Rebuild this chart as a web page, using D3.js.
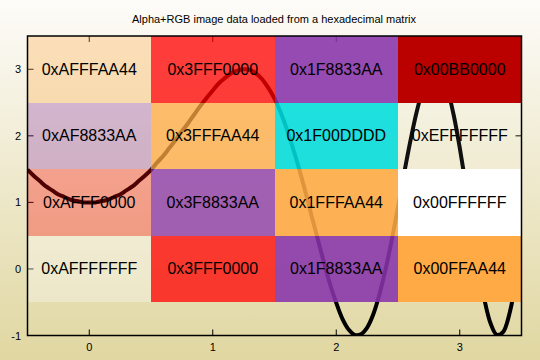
<!DOCTYPE html>
<html><head><meta charset="utf-8">
<script src="https://cdn.jsdelivr.net/npm/d3@7"></script>
<style>
html,body{margin:0;padding:0;background:#fff;}
svg{display:block;}
text{font-family:"Liberation Sans",Arial,sans-serif;}
</style></head>
<body>
<script>
const title = "Alpha+RGB image data loaded from a hexadecimal matrix";
const xTicks = [0, 1, 2, 3];
const yTicks = [-1, 0, 1, 2, 3];
const colX = [0, 1, 2, 3];
const rowY = [3, 2, 1, 0];
const row3 = ["0xAFFFAA44", "0x3FFF0000", "0x1F8833AA", "0x00BB0000"];
const row2 = ["0xAF8833AA", "0x3FFFAA44", "0x1F00DDDD", "0xEFFFFFFF"];
const row1 = ["0xAFFF0000", "0x3F8833AA", "0x1FFFAA44", "0x00FFFFFF"];
const row0 = ["0xAFFFFFFF", "0x3FFF0000", "0x1F8833AA", "0x00FFAA44"];
const curveX = [-0.50,-0.45,-0.40,-0.35,-0.30,-0.25,-0.20,-0.15,-0.10,-0.05,0.00,0.05,0.10,0.15,0.20,0.25,0.30,0.35,0.40,0.45,0.50,0.55,0.60,0.65,0.70,0.75,0.80,0.85,0.90,0.95,1.00,1.05,1.10,1.15,1.20,1.25,1.30,1.35,1.40,1.45,1.50,1.55,1.60,1.65,1.70,1.75,1.80,1.85,1.90,1.95,2.00,2.05,2.10,2.15,2.20,2.25,2.30,2.35,2.40,2.45,2.50,2.55,2.60,2.65,2.70,2.75,2.80,2.85,2.90,2.95,3.00,3.05,3.10,3.15,3.20,3.25,3.30,3.35,3.40,3.45,3.50];
const curveY = [1.49,1.40,1.32,1.24,1.18,1.12,1.08,1.04,1.02,1.00,1.00,1.00,1.02,1.04,1.08,1.12,1.18,1.24,1.32,1.40,1.49,1.60,1.70,1.82,1.94,2.07,2.19,2.32,2.45,2.57,2.68,2.79,2.87,2.94,2.98,3.00,2.99,2.94,2.85,2.72,2.56,2.35,2.10,1.81,1.50,1.16,0.80,0.45,0.10,-0.23,-0.51,-0.75,-0.91,-0.99,-0.98,-0.88,-0.68,-0.38,0.00,0.44,0.93,1.44,1.92,2.35,2.69,2.92,3.00,2.93,2.70,2.32,1.82,1.24,0.63,0.05,-0.46,-0.82,-0.99,-0.95,-0.69,-0.23,0.38];

const W = 540, H = 360;
const L = 27.5, R = 521.5, T = 36, B = 335.5;
const x = d3.scaleLinear().domain([-0.5, 3.5]).range([L, R]);
const y = d3.scaleLinear().domain([-1, 3.5]).range([B, T]);

const svg = d3.select("body").append("svg").attr("width", W).attr("height", H);
const defs = svg.append("defs");
const g = defs.append("linearGradient").attr("id", "bg").attr("x1", 0).attr("y1", 0).attr("x2", 0).attr("y2", 1);
g.append("stop").attr("offset", "0").attr("stop-color", "#fdfcf9");
g.append("stop").attr("offset", "0.1").attr("stop-color", "#faf8f0");
g.append("stop").attr("offset", "1").attr("stop-color", "#e0d7a1");
defs.append("clipPath").attr("id", "clip").append("rect")
  .attr("x", L).attr("y", T).attr("width", R - L).attr("height", B - T);

svg.append("rect").attr("width", W).attr("height", H).attr("fill", "url(#bg)");

svg.append("text").attr("x", 274).attr("y", 19).attr("text-anchor", "middle")
  .attr("dominant-baseline", "central").attr("font-size", 11).attr("fill", "#000").text(title);

// ticks (behind image)
const tk = svg.append("g").attr("stroke", "#000").attr("stroke-width", 1);
xTicks.forEach(v => {
  tk.append("line").attr("x1", x(v)).attr("x2", x(v)).attr("y1", B).attr("y2", B - 6);
  tk.append("line").attr("x1", x(v)).attr("x2", x(v)).attr("y1", T).attr("y2", T + 6);
});
yTicks.forEach(v => {
  tk.append("line").attr("x1", L).attr("x2", L + 6).attr("y1", y(v)).attr("y2", y(v));
  tk.append("line").attr("x1", R).attr("x2", R - 6).attr("y1", y(v)).attr("y2", y(v));
});
svg.append("g").selectAll("text").data(xTicks).join("text")
  .attr("x", d => x(d)).attr("y", 347).attr("text-anchor", "middle")
  .attr("dominant-baseline", "central").attr("font-size", 11).text(d => d);
svg.append("g").selectAll("text").data(yTicks).join("text")
  .attr("x", 21).attr("y", d => y(d)).attr("text-anchor", "end")
  .attr("dominant-baseline", "central").attr("font-size", 11).text(d => d);

// curve
const pts = curveX.map((v, i) => [v, curveY[i]]);
svg.append("path").attr("clip-path", "url(#clip)")
  .attr("d", d3.line().x(d => x(d[0])).y(d => y(d[1])).curve(d3.curveCatmullRom)(pts))
  .attr("fill", "none").attr("stroke", "#000").attr("stroke-width", 4).attr("stroke-linejoin", "round");

// image cells
const rows = [row3, row2, row1, row0];
const cells = [];
rows.forEach((r, ri) => r.forEach((code, ci) => cells.push({ code, cx: colX[ci], cy: rowY[ri] })));
const cg = svg.append("g");
cells.forEach(c => {
  const a = parseInt(c.code.slice(2, 4), 16);
  const rgb = "#" + c.code.slice(4);
  cg.append("rect").attr("x", x(c.cx - 0.5)).attr("y", y(c.cy + 0.5))
    .attr("width", x(c.cx + 0.5) - x(c.cx - 0.5)).attr("height", y(c.cy - 0.5) - y(c.cy + 0.5))
    .attr("fill", rgb).attr("fill-opacity", 1 - a / 255).attr("shape-rendering", "crispEdges");
});
cells.forEach(c => {
  cg.append("text").attr("x", x(c.cx)).attr("y", y(c.cy)).attr("text-anchor", "middle")
    .attr("dominant-baseline", "central").attr("font-size", 16).attr("fill", "#000").text(c.code);
});

// border
svg.append("rect").attr("x", L).attr("y", T).attr("width", R - L).attr("height", B - T)
  .attr("fill", "none").attr("stroke", "#000").attr("stroke-width", 1.5);
</script>
</body></html>
